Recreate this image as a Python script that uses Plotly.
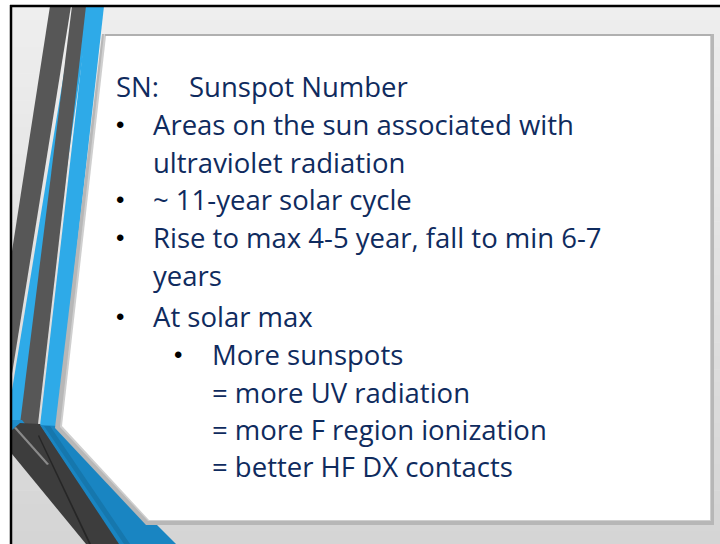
import plotly.graph_objects as go

# ---- slide content ----
title_label = "SN:"
title_text = "Sunspot Number"
line_texts = [
    "Areas on the sun associated with",
    "ultraviolet radiation",
    "~ 11-year solar cycle",
    "Rise to max 4-5 year, fall to min 6-7",
    "years",
    "At solar max",
    "More sunspots",
    "= more UV radiation",
    "= more F region ionization",
    "= better HF DX contacts",
]
line_levels = [1, 1, 1, 1, 1, 1, 2, 2, 2, 2]
line_bullets = [True, False, True, True, False, True, True, False, False, False]

# ---- layout constants ----
W, H = 720, 544
FONT = "Open Sans"
FS = 27.5
TXT = "#0f2b5e"
title_baseline = 96
baselines = [134, 172, 209, 247, 285, 326, 364, 402, 439, 476]
text_x = {1: 151, 2: 210}
bullet_x = {1: 120, 2: 178}

shapes = []

def poly(pts, color, line_color=None, lw=0):
    d = "M " + " L ".join(f"{x},{y}" for x, y in pts) + " Z"
    shapes.append(dict(type="path", path=d, xref="x", yref="y",
                       fillcolor=color, line=dict(width=lw, color=line_color or color),
                       layer="above"))

def lerp(c1, c2, t):
    return "#" + "".join(f"{int(round(a + (b - a) * t)):02x}" for a, b in zip(c1, c2))

# background gradient
top_c, bot_c = (238, 238, 238), (213, 213, 213)
n = 40
y0 = 6
for i in range(n):
    ya = y0 + (H - y0) * i / n
    yb = y0 + (H - y0) * (i + 1) / n + 0.6
    shapes.append(dict(type="rect", xref="x", yref="y", x0=11, x1=W, y0=ya, y1=yb,
                       fillcolor=lerp(top_c, bot_c, i / (n - 1)), line=dict(width=0), layer="above"))

# decorative stripes (upper part)
DARK = "#575757"
BLUE = "#2eaae8"
poly([(50, 6), (71, 6), (12, 374), (12, 251)], DARK)
poly([(75, 6), (90, 6), (30, 426), (12, 426), (12, 390)], BLUE)
poly([(72, 6), (86, 6), (38, 424), (20, 424)], DARK)
poly([(88, 6), (104, 6), (57, 426), (40, 426)], BLUE)

# lower diagonal part
poly([(12, 420), (22, 420), (40, 442), (12, 442)], "#1e8ccb")
poly([(12, 430), (20, 423), (40, 424), (120, 544), (86, 544), (12, 454)], "#3d3d3d")
poly([(14, 428), (16, 427), (49, 464), (47, 465)], "#8a8a8a")
poly([(38, 436), (39, 435), (91, 544), (89, 544)], "#262626")
poly([(40, 425), (58, 426), (176, 544), (119, 544)], "#1985c2")
poly([(44, 426), (50, 426), (130, 544), (124, 544)], "#1677ad")

# panel shadow + panel
poly([(102, 34), (714, 34), (714, 525), (146, 525), (55, 428)], "#b7b7b7")
poly([(104, 34), (711, 34), (711, 521), (148, 521), (60, 427)], "#cfcfcf")
poly([(106, 36), (710, 36), (710, 520), (149, 520), (62, 426)], "#ffffff")
shapes.append(dict(type="line", xref="x", yref="y", x0=105, x1=711, y0=35, y1=35,
                   line=dict(color="#a6a6a6", width=1.5), layer="above"))

# frame
shapes.append(dict(type="line", xref="x", yref="y", x0=10, x1=W, y0=6, y1=6,
                   line=dict(color="#000000", width=2.5), layer="above"))
shapes.append(dict(type="line", xref="x", yref="y", x0=11, x1=11, y0=5, y1=H,
                   line=dict(color="#000000", width=2.5), layer="above"))

annotations = []
def add_text(x, baseline, text, color=TXT, size=FS, anchor="left"):
    annotations.append(dict(x=x, y=baseline - 0.36 * size, xref="x", yref="y", text=text,
                            showarrow=False, xanchor=anchor, yanchor="middle",
                            font=dict(family=FONT, size=size, color=color)))

add_text(114, title_baseline, title_label)
add_text(187, title_baseline, title_text)
for t, lv, b, bl in zip(line_texts, line_levels, line_bullets, baselines):
    add_text(text_x[lv], bl, t)
    if b:
        annotations.append(dict(x=bullet_x[lv], y=bl - 10, xref="x", yref="y", text="•",
                                showarrow=False, xanchor="center", yanchor="middle",
                                font=dict(family="Liberation Sans", size=24, color="#000000")))

fig = go.Figure()
fig.add_trace(go.Scatter(x=[], y=[], mode="markers", showlegend=False, hoverinfo="skip"))
fig.update_layout(
    width=W, height=H, margin=dict(l=0, r=0, t=0, b=0),
    paper_bgcolor="#ffffff", plot_bgcolor="#ffffff",
    xaxis=dict(range=[0, W], visible=False, fixedrange=True),
    yaxis=dict(range=[H, 0], visible=False, fixedrange=True),
    shapes=shapes, annotations=annotations, showlegend=False,
)
fig.write_html("out.html", config={"displayModeBar": False},
               post_script="document.body.style.margin='0';document.body.style.overflow='hidden';")
